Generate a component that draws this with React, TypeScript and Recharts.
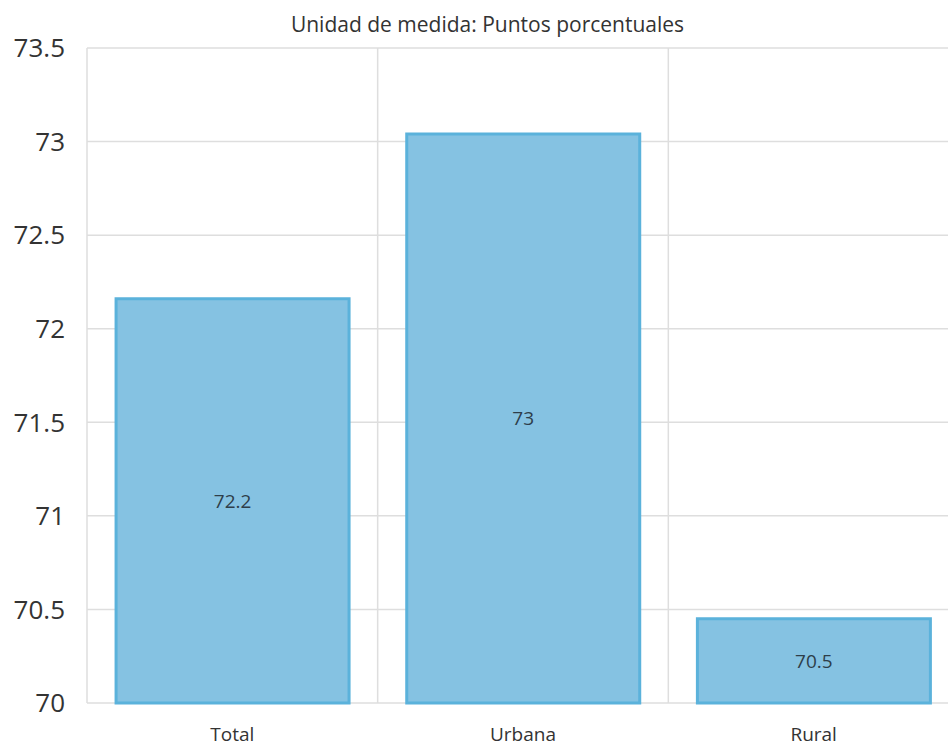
import React from 'react';
import { BarChart, Bar, XAxis, YAxis, CartesianGrid, LabelList } from 'recharts';

const categories = ['Total', 'Urbana', 'Rural'];
const values = [72.16, 73.04, 70.45];
const labels = ['72.2', '73', '70.5'];
const yTicks = [70, 70.5, 71, 71.5, 72, 72.5, 73, 73.5];

const data = categories.map((name, i) => ({ name, value: values[i], label: labels[i] }));

const font = '"Open Sans", "Noto Sans", sans-serif';

const App = () => {
  return (
    <div style={{ position: 'absolute', left: 0, top: 0, width: 960, height: 747, fontFamily: font }}>
      <div
        style={{
          position: 'absolute',
          top: 10,
          left: 0,
          width: 975,
          textAlign: 'center',
          fontSize: 21,
          color: '#333',
        }}
      >
        Unidad de medida: Puntos porcentuales
      </div>
      <BarChart
        width={960}
        height={747}
        data={data}
        margin={{ top: 48, right: 1, bottom: 14, left: 0 }}
        barCategoryGap="10%"
      >
        <CartesianGrid
          stroke="#dedede"
          strokeWidth={1.5}
          verticalCoordinatesGenerator={({ offset }) =>
            [0, 1, 2, 3].map((i) => offset.left + (i * offset.width) / 3)
          }
        />
        <XAxis
          dataKey="name"
          axisLine={false}
          tickLine={false}
          height={30}
          tickMargin={19}
          tick={{ fill: '#333', fontSize: 19, fontFamily: font }}
        />
        <YAxis
          domain={[70, 73.5]}
          ticks={yTicks}
          width={87}
          axisLine={false}
          tickLine={false}
          tickMargin={16}
          interval={0}
          tick={{ fill: '#333', fontSize: 26, fontFamily: font }}
        />
        <Bar dataKey="value" fill="#85c2e2" stroke="#5bb2db" strokeWidth={3} isAnimationActive={false}>
          <LabelList dataKey="label" position="center" fill="#2e3e4a" fontSize={19} fontFamily={font} />
        </Bar>
      </BarChart>
    </div>
  );
};

export default App;
